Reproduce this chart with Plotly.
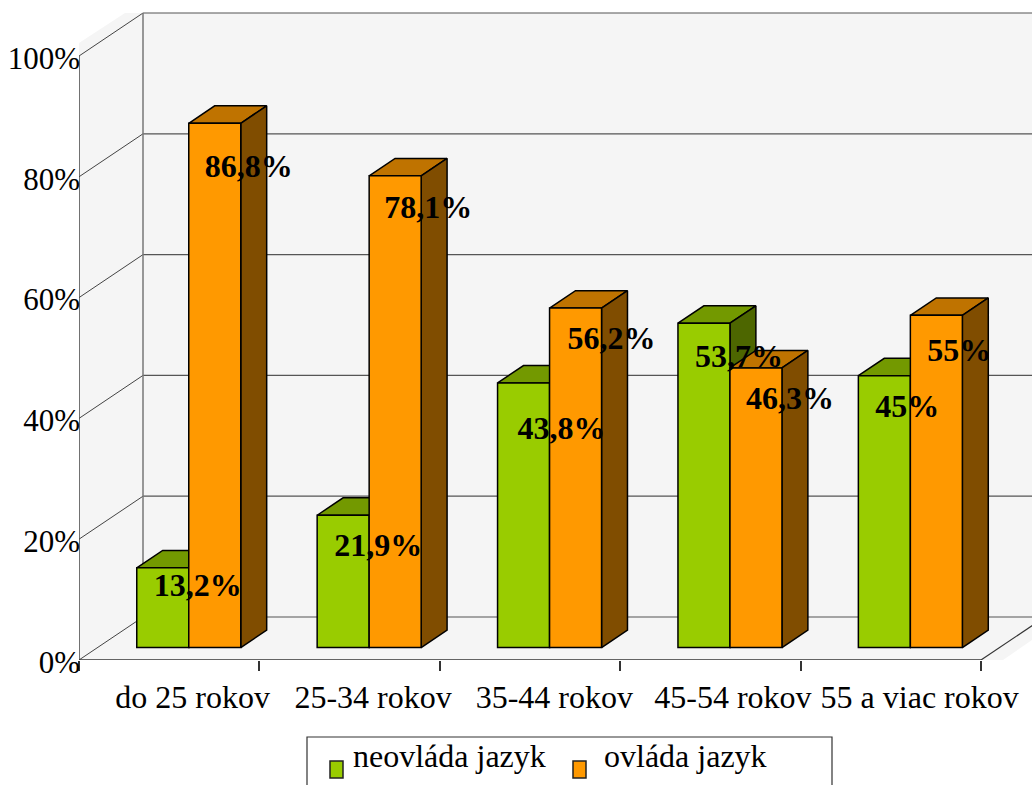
import plotly.graph_objects as go

# Age groups and the share of respondents per language ability, in percent
categories = ["do 25 rokov", "25-34 rokov", "35-44 rokov", "45-54 rokov", "55 a viac rokov"]
neovlada = [13.2, 21.9, 43.8, 53.7, 45]
ovlada = [86.8, 78.1, 56.2, 46.3, 55]
y_ticks = [0, 20, 40, 60, 80, 100]
series_names = ["neovláda jazyk", "ovláda jazyk"]

# Vertical distance of each value label below its bar top, in px
label_drop_neovlada = [20, 33, 48, 36, 33]
label_drop_ovlada = [46, 34, 33, 33, 38]

# Horizontal inset of each value label from its bar's left edge, in px
label_inset_neovlada = [17, 17, 20, 17, 17]
label_inset_ovlada = [16, 15, 18, 16, 17]

# Horizontal position of each category label, in category units
x_label_pos = [0.63, 1.63, 2.635, 3.625, 4.66]

# Pixel scale of the plot area
WIDTH, HEIGHT = 1032, 785
LEFT, BOTTOM = 79, 660
PX_PER_CAT = 180.4
PX_PER_PCT = 6.04

# Oblique projection: full chart depth, in px
DEPTH_X, DEPTH_Y = 64, 43
BAR_DEPTH_START, BAR_DEPTH_END = 0.29, 0.695
BAR_W = 52 / PX_PER_CAT
GROUP_SHIFT = 1 / PX_PER_CAT

FONT = "Liberation Serif"
GREEN = ("#99CC00", "#739900", "#4D6600")
ORANGE = ("#FF9900", "#BF7300", "#804D00")


def proj(x, pct, depth):
    """Shift a point (category units, percent) backwards by a depth fraction."""
    return x + depth * DEPTH_X / PX_PER_CAT, pct + depth * DEPTH_Y / PX_PER_PCT


def polygon(points):
    xs, ys = zip(*points)
    return list(xs) + [xs[0]], list(ys) + [ys[0]]


def px_x(px):
    return (px - LEFT) / PX_PER_CAT


def px_y(py):
    return (BOTTOM - py) / PX_PER_PCT


fig = go.Figure()
x_max = (WIDTH - LEFT) / PX_PER_CAT
y_max = BOTTOM / PX_PER_PCT
n = len(categories)

# Wall and floor backdrop
bx, by = polygon([(0, 0), (0, px_y(43)), (px_x(125), px_y(13)), (x_max, px_y(13)),
                  (x_max, px_y(640)), (px_x(1003), 0)])
fig.add_trace(go.Scatter(x=bx, y=by, mode="lines", fill="toself", fillcolor="#F5F5F5",
                         line=dict(width=0), showlegend=False, hoverinfo="skip", zorder=0))


def line(xs, ys, color, width):
    fig.add_trace(go.Scatter(x=xs, y=ys, mode="lines", line=dict(color=color, width=width),
                             showlegend=False, hoverinfo="skip", zorder=0))


# Gridlines across the left and back walls, plus the floor edges
for t in y_ticks:
    x0, y0 = proj(0, t, 1)
    x1, _ = proj(n, t, 1)
    line([0, x0], [t, y0], "#444444", 1)
    line([x0, x1], [y0, y0], "#555555", 1.2)
x_back, y_back = proj(0, 0, 1)
line([x_back, x_back], [y_back, proj(0, 100, 1)[1]], "#777777", 1.5)
xr, yr = proj(n, 0, 1)
line([n, xr], [0, yr], "#333333", 1.2)
line([0, 0], [0, 100], "#444444", 1.5)
line([0, n], [0, 0], "#333333", 1.5)


def add_series(name, values, colors, bar_offset, z):
    front, top, side = colors
    top_x, top_y, side_x, side_y = [], [], [], []
    base = proj(0, 0, BAR_DEPTH_START)[1]
    shift = proj(0, 0, BAR_DEPTH_START)[0] + GROUP_SHIFT
    for i, v in enumerate(values):
        x0 = i + 0.5 + bar_offset + shift
        x1 = x0 + BAR_W
        h = base + v
        d = BAR_DEPTH_END - BAR_DEPTH_START
        tx, ty = polygon([(x0, h), (x1, h), proj(x1, h, d), proj(x0, h, d)])
        sx, sy = polygon([(x1, h), (x1, base), proj(x1, base, d), proj(x1, h, d)])
        top_x += tx + [None]
        top_y += ty + [None]
        side_x += sx + [None]
        side_y += sy + [None]
    outline = dict(color="#000000", width=1.5)
    for xs, ys, fc in ((top_x, top_y, top), (side_x, side_y, side)):
        fig.add_trace(go.Scatter(x=xs, y=ys, mode="lines", fill="toself", fillcolor=fc,
                                 line=outline, showlegend=False, hoverinfo="skip", zorder=z))
    fig.add_trace(go.Bar(
        x=[i + 0.5 for i in range(n)], y=values, base=base, name=name, showlegend=False,
        width=BAR_W, offset=bar_offset + shift,
        marker=dict(color=front, line=dict(color="#000000", width=1.5)),
        zorder=z + 1,
    ))


add_series(series_names[0], neovlada, GREEN, -BAR_W, 1)
add_series(series_names[1], ovlada, ORANGE, 0, 3)


def pct_label(v):
    return f"{v:g}%".replace(".", ",")


# Value labels are placed relative to each bar's top-left front corner
base_pct = proj(0, 0, BAR_DEPTH_START)[1]
shift_x = proj(0, 0, BAR_DEPTH_START)[0] + GROUP_SHIFT
for values, drops, insets, off in ((neovlada, label_drop_neovlada, label_inset_neovlada, -BAR_W),
                                   (ovlada, label_drop_ovlada, label_inset_ovlada, 0)):
    fig.add_trace(go.Scatter(
        x=[i + 0.5 + off + shift_x + ins / PX_PER_CAT for i, ins in enumerate(insets)],
        y=[base_pct + v - d / PX_PER_PCT for v, d in zip(values, drops)],
        mode="text", text=[f"<b>{pct_label(v)}</b>" for v in values], textposition="middle right",
        textfont=dict(family=FONT, size=32, color="#000000"),
        showlegend=False, hoverinfo="skip", cliponaxis=False, zorder=6,
    ))


def paper_x(px):
    return (px - LEFT) / (WIDTH - LEFT)


def paper_y(py):
    return (BOTTOM - py) / BOTTOM


# Legend: a frame running off the page, with a swatch and a caption per series
legend_shapes = [dict(type="rect", xref="paper", yref="paper",
                      x0=paper_x(307), x1=paper_x(832), y0=paper_y(800), y1=paper_y(737),
                      line=dict(color="#333333", width=1.2), fillcolor="rgba(0,0,0,0)")]
legend_notes = []
for name, color, swatch_left, text_left in ((series_names[0], GREEN[0], 330, 351),
                                            (series_names[1], ORANGE[0], 573, 602)):
    legend_shapes.append(dict(type="rect", xref="paper", yref="paper",
                              x0=paper_x(swatch_left), x1=paper_x(swatch_left + 13),
                              y0=paper_y(778), y1=paper_y(761), fillcolor=color,
                              line=dict(color="#222222", width=1.5)))
    legend_notes.append(dict(xref="paper", yref="paper", x=paper_x(text_left), y=paper_y(756),
                             xanchor="left", yanchor="middle", text=name, showarrow=False,
                             font=dict(family=FONT, size=32, color="#000000")))

fig.update_layout(
    width=WIDTH, height=HEIGHT, autosize=False,
    margin=dict(l=LEFT, r=0, t=0, b=HEIGHT - BOTTOM, pad=0),
    paper_bgcolor="#FFFFFF", plot_bgcolor="#FFFFFF", showlegend=False,
    barmode="overlay", font=dict(family=FONT, size=31, color="#000000"),
    xaxis=dict(
        range=[0, x_max], showgrid=False, zeroline=False, showline=False,
        tickmode="array", tickvals=x_label_pos, ticktext=categories,
        ticks="", ticklabelstandoff=15, tickfont=dict(family=FONT, size=32),
        minor=dict(tickmode="array", tickvals=list(range(n + 1)), ticks="outside",
                   ticklen=10, tickcolor="#333333", tickwidth=1.5, showgrid=False),
    ),
    yaxis=dict(
        range=[0, y_max], showgrid=False, zeroline=False, showline=False,
        tickmode="array", tickvals=y_ticks, ticktext=[f"{t}%" for t in y_ticks],
        ticks="", ticklabelstandoff=-2, ticklabelshift=2, tickfont=dict(family=FONT, size=31),
    ),
    shapes=legend_shapes,
    annotations=legend_notes,
)

fig.write_html("out.html")
